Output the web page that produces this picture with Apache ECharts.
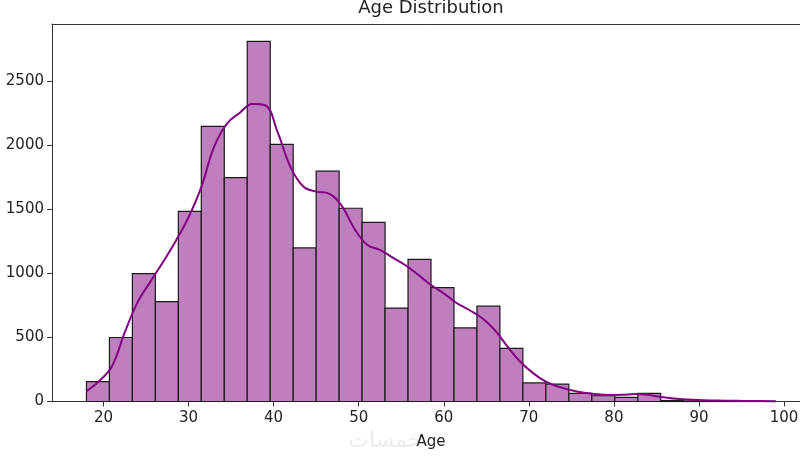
<!DOCTYPE html>
<html>
<head>
<meta charset="utf-8">
<script src="https://cdn.jsdelivr.net/npm/echarts@6/dist/echarts.min.js"></script>
<style>
html,body{margin:0;padding:0;background:#fff;overflow:hidden;width:800px;height:460px;}
#chart{width:800px;height:460px;}
</style>
</head>
<body>
<div id="chart"></div>
<script>
const binEdges = [18,20.7,23.4,26.1,28.8,31.5,34.2,36.9,39.6,42.3,45,47.7,50.4,53.1,55.8,58.5,61.2,63.9,66.6,69.3,72,74.7,77.4,80.1,82.8,85.5,88.2,90.9,93.6,96.3,99];
const counts = [155,500,1000,780,1485,2150,1750,2815,2010,1200,1800,1510,1400,730,1110,890,575,745,415,145,135,64,45,33,64,8,4,6,3,2];
const kdeX = [18,19.5,21,22.5,24,25.5,27,28.5,30,31.5,33,34.5,36,37.5,39,40.5,42,43.5,45,46.5,48,49.5,51,52.5,54,55.5,57,58.5,60,61.5,63,64.5,66,67.5,69,70.5,72,73.5,75,76.5,78,79.5,81,82.5,84,85.5,87,88.5,90,91.5,93,94.5,96,97.5,99];
const kdeY = [80,160,275,540,775,935,1090,1255,1440,1675,1990,2170,2255,2325,2315,2100,1830,1680,1640,1625,1530,1350,1225,1185,1125,1065,990,910,845,770,715,652,558,428,311,222,155,115,88,68,56,51,53,58,52,35,24,16,11,8,6,5,4,3,2];
const xTicks = [20,30,40,50,60,70,80,90,100];
const yTicks = [0,500,1000,1500,2000,2500];

const histData = counts.map((c,i)=>[binEdges[i], binEdges[i+1], c]);
const kdeData = kdeX.map((x,i)=>[x, kdeY[i]]);

const chart = echarts.init(document.getElementById('chart'));
const font = 'DejaVu Sans';
const axisCommon = {
  type:'value', min:13.95, max:103.05,
  splitLine:{show:false}
};
chart.setOption({
  animation:false,
  backgroundColor:'#fff',
  textStyle:{fontFamily:font},
  graphic:[
    {type:'text', x:431, y:8.5, style:{text:'Age Distribution', fontFamily:font, fontSize:18, fill:'#222', textAlign:'center', textVerticalAlign:'middle'}},
    {type:'text', x:385, y:441, z:-1, style:{text:'خمسات', fontFamily:'DejaVu Sans', fontSize:22, fill:'#ebebeb', textAlign:'center', textVerticalAlign:'middle'}},
    {type:'rect', z:100, shape:{x:794, y:25.5, width:6, height:375}, style:{fill:'#fff'}}
  ],
  grid:{left:52, top:24, width:758, height:377.5, outerBoundsMode:'none', containLabel:false, show:false},
  xAxis:[Object.assign({}, axisCommon, {
    position:'bottom',
    name:'Age', nameLocation:'middle', nameGap:33,
    nameTextStyle:{fontFamily:font, fontSize:15, color:'#222'},
    axisLine:{show:true, onZero:false, lineStyle:{color:'#333', width:1}},
    axisTick:{show:true, length:5, lineStyle:{color:'#333'}, customValues:xTicks},
    axisLabel:{fontFamily:font, fontSize:15, color:'#222', margin:9, customValues:xTicks, formatter:v=>String(v)}
  }), Object.assign({}, axisCommon, {
    position:'top',
    axisLine:{show:true, onZero:false, lineStyle:{color:'#333', width:1}},
    axisTick:{show:false}, axisLabel:{show:false}
  })],
  yAxis:{
    type:'value', min:0, max:2950,
    axisLine:{show:true, lineStyle:{color:'#333', width:1}},
    axisTick:{show:true, length:5, lineStyle:{color:'#333'}, customValues:yTicks},
    axisLabel:{fontFamily:font, fontSize:15, color:'#222', margin:8, customValues:yTicks, formatter:v=>String(v)},
    splitLine:{show:false}
  },
  series:[
    {
      type:'custom',
      data:histData,
      encode:{x:[0,1], y:2},
      renderItem:function(params, api){
        const p0 = api.coord([api.value(0), api.value(2)]);
        const p1 = api.coord([api.value(1), 0]);
        return {type:'rect', shape:{x:p0[0], y:p0[1], width:p1[0]-p0[0], height:p1[1]-p0[1]},
          style:{fill:'#bf7fbf', stroke:'#1a1a1a', lineWidth:1.2}};
      },
      z:2
    },
    {
      type:'line',
      data:kdeData,
      smooth:0.4,
      showSymbol:false,
      symbol:'none',
      lineStyle:{color:'#800080', width:2},
      z:3
    }
  ]
});
</script>
</body>
</html>
